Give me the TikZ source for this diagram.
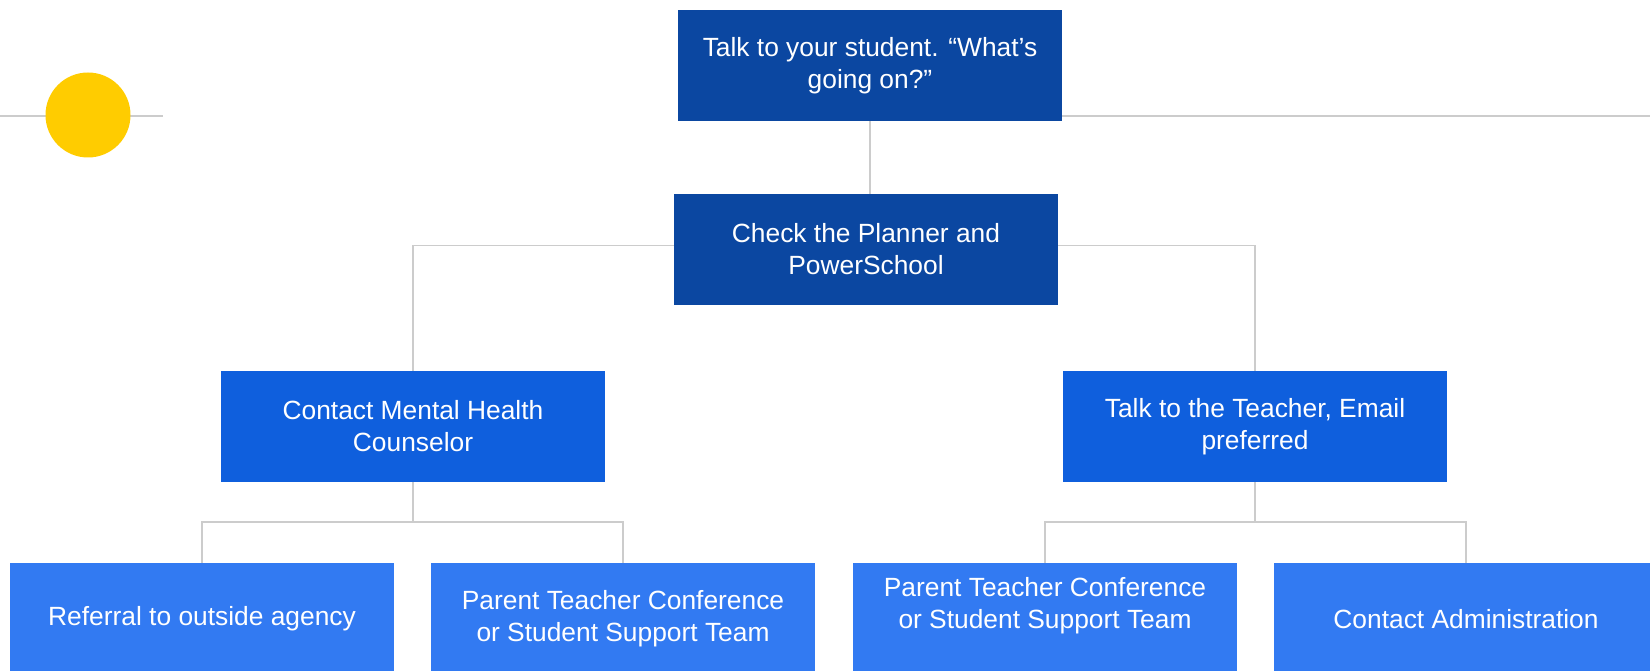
\documentclass[tikz,border=0pt]{standalone}
\usepackage{fontspec}
\setmainfont{Liberation Sans}
\definecolor{darkblue}{HTML}{0B47A1}
\definecolor{midblue}{HTML}{0F5FDD}
\definecolor{lightblue}{HTML}{327AF2}
\definecolor{sunny}{HTML}{FFCC00}
\definecolor{linegray}{HTML}{CCCCCC}
\tikzset{
	stepbox/.style={fill=#1, text=white, align=center, minimum width=384*0.02cm,
		minimum height=111*0.02cm, inner sep=0pt,
		font=\fontsize{15}{18.2}\selectfont},
	link/.style={draw=linegray, line width=1.1pt}
}
\begin{document}
\begin{tikzpicture}[x=0.02cm, y=-0.02cm]
			\useasboundingbox (0,0) rectangle (1650,671);
			\clip (0,0) rectangle (1650,671);
			
			%Lines behind
			\draw[link] (0,116) -- (163,116);
			\draw[link] (1062,116) -- (1650,116);
			\fill[sunny] (88,115) circle (42.5*0.02cm);
			
			%Top
			\node[stepbox=darkblue] (talk) at (870,65.5) {Talk to your student. “What’s\\going on?”};
			\node[stepbox=darkblue] (check) at (866,249.5) {Check the Planner and\\PowerSchool};
			
			%Middle
			\node[stepbox=midblue] (mental) at (413,426.5) {Contact Mental Health\\Counselor};
			\node[stepbox=midblue] (teacher) at (1255,426.5) {Talk to the Teacher, Email\\preferred};
			
			%Bottom
			\def\y{619}
			\node[stepbox=lightblue] (referral) at (202,\y) {Referral to outside agency};
			\node[stepbox=lightblue] (ptcl) at (623,\y) {Parent Teacher Conference\\or Student Support Team};
			\node[stepbox=lightblue] (ptcr) at (1045,\y) {Parent Teacher Conference\\or Student Support Team\\\mbox{}};
			\node[stepbox=lightblue] (admin) at (1466,\y) {Contact Administration};
			
			%Connectors
			\coordinate (mj) at (413,522);
			\coordinate (tj) at (1255,522);
			\draw[link] (talk.south) -- (talk.south |- check.north);
			\draw[link] ([yshift=0.08cm]check.west) -| (mental.north);
			\draw[link] ([yshift=0.08cm]check.east) -| (teacher.north);
			\draw[link] (mental.south) -- (mj) -| (referral.north);
			\draw[link] (mj) -| (ptcl.north);
			\draw[link] (teacher.south) -- (tj) -| (ptcr.north);
			\draw[link] (tj) -| (admin.north);
\end{tikzpicture}
\end{document}
